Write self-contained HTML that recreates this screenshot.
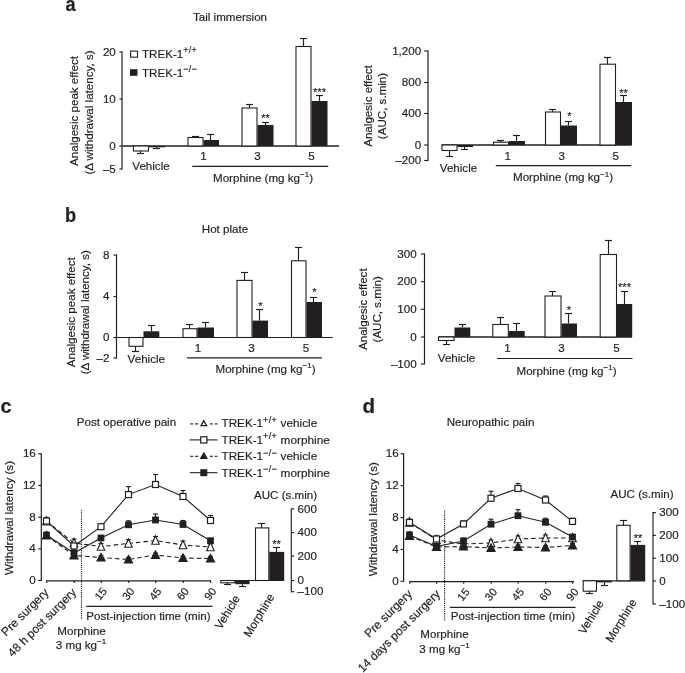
<!DOCTYPE html>
<html><head><meta charset="utf-8"><title>Figure</title>
<style>
html,body{margin:0;padding:0;background:#fff;}
svg{display:block;will-change:transform;font-family:"Liberation Sans",sans-serif;fill:#231f20;}
svg text{stroke:#231f20;stroke-width:0.18px;}
</style></head><body>
<svg width="685" height="673" viewBox="0 0 685 673">
<rect x="0" y="0" width="685" height="673" fill="#ffffff" stroke="none"/>
<g id="fig">
<text transform="translate(65.5 10.5) scale(0.93 1)" font-size="19.6" font-weight="bold" stroke="#231f20" stroke-width="0.35">a</text>
<text x="230" y="21.3" font-size="11.6" text-anchor="middle">Tail immersion</text>
<line x1="122" y1="51.5" x2="122" y2="169.5" stroke="#231f20" stroke-width="1.2"/>
<line x1="119.4" y1="52" x2="122" y2="52" stroke="#231f20" stroke-width="1.15"/>
<text x="115.8" y="55.6" font-size="11.6" text-anchor="end">20</text>
<line x1="119.4" y1="99" x2="122" y2="99" stroke="#231f20" stroke-width="1.15"/>
<text x="115.8" y="102.6" font-size="11.6" text-anchor="end">10</text>
<line x1="119.4" y1="146" x2="122" y2="146" stroke="#231f20" stroke-width="1.15"/>
<text x="115.8" y="149.6" font-size="11.6" text-anchor="end">0</text>
<line x1="119.4" y1="169" x2="122" y2="169" stroke="#231f20" stroke-width="1.15"/>
<text x="115.8" y="172.6" font-size="11.6" text-anchor="end">–5</text>
<line x1="122" y1="146" x2="339" y2="146" stroke="#231f20" stroke-width="1.5"/>
<rect x="130.6" y="51.1" width="6.9" height="6.1" fill="#fff" stroke="#231f20" stroke-width="1.1"/>
<rect x="130" y="69.2" width="7.5" height="6.6" fill="#231f20" stroke="none" stroke-width="1"/>
<text x="142" y="57.5" font-size="11.6">TREK-1<tspan dy="-4.7" font-size="9" letter-spacing="0.3">+/+</tspan></text>
<text x="142" y="76.5" font-size="11.6">TREK-1<tspan dy="-4.7" font-size="9" letter-spacing="0.3">−/−</tspan></text>
<rect x="133.5" y="146" width="15.0" height="5" fill="#fff" stroke="#231f20" stroke-width="1.1"/>
<line x1="140.5" y1="151" x2="140.5" y2="153.5" stroke="#231f20" stroke-width="1.15"/>
<line x1="137.0" y1="153.5" x2="144.0" y2="153.5" stroke="#231f20" stroke-width="1.15"/>
<rect x="149" y="146" width="16" height="1.3000000000000114" fill="#231f20" stroke="none" stroke-width="0"/>
<line x1="156.5" y1="147.3" x2="156.5" y2="148.5" stroke="#231f20" stroke-width="1.15"/>
<line x1="153.0" y1="148.5" x2="160.0" y2="148.5" stroke="#231f20" stroke-width="1.15"/>
<rect x="188.0" y="137.5" width="15.0" height="8.5" fill="#fff" stroke="#231f20" stroke-width="1.1"/>
<line x1="195.5" y1="137.5" x2="195.5" y2="136.5" stroke="#231f20" stroke-width="1.15"/>
<line x1="192.0" y1="136.5" x2="199.0" y2="136.5" stroke="#231f20" stroke-width="1.15"/>
<rect x="203.5" y="140" width="15.5" height="6" fill="#231f20" stroke="none" stroke-width="0"/>
<line x1="210.5" y1="140" x2="210.5" y2="134.5" stroke="#231f20" stroke-width="1.15"/>
<line x1="207.0" y1="134.5" x2="214.0" y2="134.5" stroke="#231f20" stroke-width="1.15"/>
<rect x="242.0" y="108" width="15.0" height="38" fill="#fff" stroke="#231f20" stroke-width="1.1"/>
<line x1="249.5" y1="108" x2="249.5" y2="104.5" stroke="#231f20" stroke-width="1.15"/>
<line x1="246.0" y1="104.5" x2="253.0" y2="104.5" stroke="#231f20" stroke-width="1.15"/>
<rect x="257.5" y="125" width="16.0" height="21" fill="#231f20" stroke="none" stroke-width="0"/>
<line x1="265.5" y1="125" x2="265.5" y2="122.5" stroke="#231f20" stroke-width="1.15"/>
<line x1="262.0" y1="122.5" x2="269.0" y2="122.5" stroke="#231f20" stroke-width="1.15"/>
<rect x="296.0" y="46.5" width="15.0" height="99.5" fill="#fff" stroke="#231f20" stroke-width="1.1"/>
<line x1="303.5" y1="46.5" x2="303.5" y2="38.5" stroke="#231f20" stroke-width="1.15"/>
<line x1="300.0" y1="38.5" x2="307.0" y2="38.5" stroke="#231f20" stroke-width="1.15"/>
<rect x="311.5" y="101" width="16.0" height="45" fill="#231f20" stroke="none" stroke-width="0"/>
<line x1="319.5" y1="101" x2="319.5" y2="95.5" stroke="#231f20" stroke-width="1.15"/>
<line x1="316.0" y1="95.5" x2="323.0" y2="95.5" stroke="#231f20" stroke-width="1.15"/>
<text x="265.5" y="121.7" font-size="11" text-anchor="middle">**</text>
<text x="319.5" y="96.2" font-size="11" text-anchor="middle">***</text>
<text x="151" y="170" font-size="11.6" text-anchor="middle">Vehicle</text>
<text x="203.5" y="160" font-size="11.6" text-anchor="middle">1</text>
<text x="257.5" y="160" font-size="11.6" text-anchor="middle">3</text>
<text x="311.5" y="160" font-size="11.6" text-anchor="middle">5</text>
<line x1="192.3" y1="166.3" x2="328.3" y2="166.3" stroke="#231f20" stroke-width="1.15"/>
<text x="263" y="181.5" font-size="11.6" text-anchor="middle">Morphine (mg kg<tspan dy="-4.5" font-size="8">−1</tspan><tspan dy="4.5">)</tspan></text>
<text x="78" y="111" font-size="11.6" text-anchor="middle" transform="rotate(-90 78 111)">Analgesic peak effect</text>
<text x="92.5" y="112.5" font-size="11.6" text-anchor="middle" transform="rotate(-90 92.5 112.5)">(Δ withdrawal latency, s)</text>
<line x1="428" y1="50.5" x2="428" y2="161" stroke="#231f20" stroke-width="1.2"/>
<line x1="424.2" y1="51" x2="428" y2="51" stroke="#231f20" stroke-width="1.15"/>
<text x="421.2" y="54.6" font-size="11.6" text-anchor="end">1,200</text>
<line x1="424.2" y1="82.5" x2="428" y2="82.5" stroke="#231f20" stroke-width="1.15"/>
<text x="421.2" y="86.1" font-size="11.6" text-anchor="end">800</text>
<line x1="424.2" y1="113.5" x2="428" y2="113.5" stroke="#231f20" stroke-width="1.15"/>
<text x="421.2" y="117.1" font-size="11.6" text-anchor="end">400</text>
<line x1="424.2" y1="145" x2="428" y2="145" stroke="#231f20" stroke-width="1.15"/>
<text x="421.2" y="148.6" font-size="11.6" text-anchor="end">0</text>
<line x1="424.2" y1="160.5" x2="428" y2="160.5" stroke="#231f20" stroke-width="1.15"/>
<text x="421.2" y="164.1" font-size="11.6" text-anchor="end">–200</text>
<line x1="441.5" y1="145" x2="631.5" y2="145" stroke="#231f20" stroke-width="1.3"/>
<rect x="442.0" y="145" width="15.0" height="5.5" fill="#fff" stroke="#231f20" stroke-width="1.1"/>
<line x1="449.5" y1="150.5" x2="449.5" y2="156.5" stroke="#231f20" stroke-width="1.15"/>
<line x1="446.0" y1="156.5" x2="453.0" y2="156.5" stroke="#231f20" stroke-width="1.15"/>
<rect x="457.5" y="145" width="15.5" height="2" fill="#231f20" stroke="none" stroke-width="0"/>
<line x1="464.5" y1="147" x2="464.5" y2="149.5" stroke="#231f20" stroke-width="1.15"/>
<line x1="461.0" y1="149.5" x2="468.0" y2="149.5" stroke="#231f20" stroke-width="1.15"/>
<rect x="493.5" y="142.2" width="15.0" height="2.8000000000000114" fill="#fff" stroke="#231f20" stroke-width="1.1"/>
<line x1="500.5" y1="142.2" x2="500.5" y2="140.5" stroke="#231f20" stroke-width="1.15"/>
<line x1="497.0" y1="140.5" x2="504.0" y2="140.5" stroke="#231f20" stroke-width="1.15"/>
<rect x="509" y="141" width="16" height="4" fill="#231f20" stroke="none" stroke-width="0"/>
<line x1="516.5" y1="141" x2="516.5" y2="135.5" stroke="#231f20" stroke-width="1.15"/>
<line x1="513.0" y1="135.5" x2="520.0" y2="135.5" stroke="#231f20" stroke-width="1.15"/>
<rect x="545.5" y="112" width="15.0" height="33" fill="#fff" stroke="#231f20" stroke-width="1.1"/>
<line x1="552.5" y1="112" x2="552.5" y2="109.5" stroke="#231f20" stroke-width="1.15"/>
<line x1="549.0" y1="109.5" x2="556.0" y2="109.5" stroke="#231f20" stroke-width="1.15"/>
<rect x="561" y="125.5" width="16" height="19.5" fill="#231f20" stroke="none" stroke-width="0"/>
<line x1="568.5" y1="125.5" x2="568.5" y2="121.5" stroke="#231f20" stroke-width="1.15"/>
<line x1="565.0" y1="121.5" x2="572.0" y2="121.5" stroke="#231f20" stroke-width="1.15"/>
<rect x="600.0" y="64.2" width="15.5" height="80.8" fill="#fff" stroke="#231f20" stroke-width="1.1"/>
<line x1="607.5" y1="64.2" x2="607.5" y2="57.5" stroke="#231f20" stroke-width="1.15"/>
<line x1="604.0" y1="57.5" x2="611.0" y2="57.5" stroke="#231f20" stroke-width="1.15"/>
<rect x="616" y="102" width="16" height="43" fill="#231f20" stroke="none" stroke-width="0"/>
<line x1="623.5" y1="102" x2="623.5" y2="95.5" stroke="#231f20" stroke-width="1.15"/>
<line x1="620.0" y1="95.5" x2="627.0" y2="95.5" stroke="#231f20" stroke-width="1.15"/>
<text x="569.3" y="120.2" font-size="11" text-anchor="middle">*</text>
<text x="623.5" y="96.7" font-size="11" text-anchor="middle">**</text>
<text x="458.5" y="171.5" font-size="11.6" text-anchor="middle">Vehicle</text>
<text x="507.8" y="160" font-size="11.6" text-anchor="middle">1</text>
<text x="561.8" y="160" font-size="11.6" text-anchor="middle">3</text>
<text x="615.8" y="160" font-size="11.6" text-anchor="middle">5</text>
<line x1="495.8" y1="165.6" x2="631.2" y2="165.6" stroke="#231f20" stroke-width="1.15"/>
<text x="563" y="181" font-size="11.6" text-anchor="middle">Morphine (mg kg<tspan dy="-4.5" font-size="8">−1</tspan><tspan dy="4.5">)</tspan></text>
<text x="372" y="106" font-size="11.6" text-anchor="middle" transform="rotate(-90 372 106)">Analgesic effect</text>
<text x="386" y="106" font-size="11.6" text-anchor="middle" transform="rotate(-90 386 106)">(AUC, s.min)</text>
<text transform="translate(64.9 221.6) scale(0.95 1)" font-size="19.3" font-weight="bold" stroke="#231f20" stroke-width="0.35">b</text>
<text x="225" y="232.5" font-size="11.6" text-anchor="middle">Hot plate</text>
<line x1="116.5" y1="254.5" x2="116.5" y2="358.5" stroke="#231f20" stroke-width="1.2"/>
<line x1="113.5" y1="255" x2="116.5" y2="255" stroke="#231f20" stroke-width="1.15"/>
<text x="109.5" y="258.6" font-size="11.6" text-anchor="end">8</text>
<line x1="113.5" y1="296.5" x2="116.5" y2="296.5" stroke="#231f20" stroke-width="1.15"/>
<text x="109.5" y="300.1" font-size="11.6" text-anchor="end">4</text>
<line x1="113.5" y1="337.5" x2="116.5" y2="337.5" stroke="#231f20" stroke-width="1.15"/>
<text x="109.5" y="341.1" font-size="11.6" text-anchor="end">0</text>
<line x1="113.5" y1="358" x2="116.5" y2="358" stroke="#231f20" stroke-width="1.15"/>
<text x="109.5" y="361.6" font-size="11.6" text-anchor="end">–2</text>
<line x1="116.5" y1="337.5" x2="332.6" y2="337.5" stroke="#231f20" stroke-width="1.2"/>
<rect x="129.0" y="337.5" width="14.0" height="8.800000000000011" fill="#fff" stroke="#231f20" stroke-width="1.1"/>
<line x1="135.5" y1="346.3" x2="135.5" y2="351.5" stroke="#231f20" stroke-width="1.15"/>
<line x1="132.0" y1="351.5" x2="139.0" y2="351.5" stroke="#231f20" stroke-width="1.15"/>
<rect x="143.5" y="331.3" width="15.800000000000011" height="6.199999999999989" fill="#231f20" stroke="none" stroke-width="0"/>
<line x1="151.5" y1="331.3" x2="151.5" y2="325.5" stroke="#231f20" stroke-width="1.15"/>
<line x1="148.0" y1="325.5" x2="155.0" y2="325.5" stroke="#231f20" stroke-width="1.15"/>
<rect x="183.0" y="328.7" width="14.0" height="8.800000000000011" fill="#fff" stroke="#231f20" stroke-width="1.1"/>
<line x1="189.5" y1="328.7" x2="189.5" y2="324.5" stroke="#231f20" stroke-width="1.15"/>
<line x1="186.0" y1="324.5" x2="193.0" y2="324.5" stroke="#231f20" stroke-width="1.15"/>
<rect x="197.5" y="327.5" width="16.5" height="10.0" fill="#231f20" stroke="none" stroke-width="0"/>
<line x1="205.5" y1="327.5" x2="205.5" y2="322.5" stroke="#231f20" stroke-width="1.15"/>
<line x1="202.0" y1="322.5" x2="209.0" y2="322.5" stroke="#231f20" stroke-width="1.15"/>
<rect x="237.0" y="280.4" width="15.0" height="57.10000000000002" fill="#fff" stroke="#231f20" stroke-width="1.1"/>
<line x1="244.5" y1="280.4" x2="244.5" y2="272.5" stroke="#231f20" stroke-width="1.15"/>
<line x1="241.0" y1="272.5" x2="248.0" y2="272.5" stroke="#231f20" stroke-width="1.15"/>
<rect x="252.5" y="320.6" width="15.5" height="16.899999999999977" fill="#231f20" stroke="none" stroke-width="0"/>
<line x1="259.5" y1="320.6" x2="259.5" y2="309.5" stroke="#231f20" stroke-width="1.15"/>
<line x1="256.0" y1="309.5" x2="263.0" y2="309.5" stroke="#231f20" stroke-width="1.15"/>
<rect x="291.5" y="260.8" width="14.5" height="76.69999999999999" fill="#fff" stroke="#231f20" stroke-width="1.1"/>
<line x1="298.5" y1="260.8" x2="298.5" y2="247.5" stroke="#231f20" stroke-width="1.15"/>
<line x1="295.0" y1="247.5" x2="302.0" y2="247.5" stroke="#231f20" stroke-width="1.15"/>
<rect x="306.5" y="302" width="15.5" height="35.5" fill="#231f20" stroke="none" stroke-width="0"/>
<line x1="313.5" y1="302" x2="313.5" y2="297.5" stroke="#231f20" stroke-width="1.15"/>
<line x1="310.0" y1="297.5" x2="317.0" y2="297.5" stroke="#231f20" stroke-width="1.15"/>
<text x="260.3" y="309.5" font-size="11" text-anchor="middle">*</text>
<text x="314.4" y="295.8" font-size="11" text-anchor="middle">*</text>
<text x="146.3" y="362.5" font-size="11.6" text-anchor="middle">Vehicle</text>
<text x="198" y="352.3" font-size="11.6" text-anchor="middle">1</text>
<text x="251.5" y="352.3" font-size="11.6" text-anchor="middle">3</text>
<text x="306" y="352.3" font-size="11.6" text-anchor="middle">5</text>
<line x1="186.9" y1="357.9" x2="322" y2="357.9" stroke="#231f20" stroke-width="1.15"/>
<text x="265.5" y="372.5" font-size="11.6" text-anchor="middle">Morphine (mg kg<tspan dy="-4.5" font-size="8">−1</tspan><tspan dy="4.5">)</tspan></text>
<text x="75.5" y="312.2" font-size="11.6" text-anchor="middle" transform="rotate(-90 75.5 312.2)">Analgesic peak effect</text>
<text x="89.5" y="312.2" font-size="11.6" text-anchor="middle" transform="rotate(-90 89.5 312.2)">(Δ withdrawal latency, s)</text>
<line x1="424.5" y1="253.5" x2="424.5" y2="364.3" stroke="#231f20" stroke-width="1.2"/>
<line x1="420.9" y1="254" x2="424.5" y2="254" stroke="#231f20" stroke-width="1.15"/>
<text x="416.7" y="257.6" font-size="11.6" text-anchor="end">300</text>
<line x1="420.9" y1="281.7" x2="424.5" y2="281.7" stroke="#231f20" stroke-width="1.15"/>
<text x="416.7" y="285.3" font-size="11.6" text-anchor="end">200</text>
<line x1="420.9" y1="309.3" x2="424.5" y2="309.3" stroke="#231f20" stroke-width="1.15"/>
<text x="416.7" y="312.90000000000003" font-size="11.6" text-anchor="end">100</text>
<line x1="420.9" y1="337" x2="424.5" y2="337" stroke="#231f20" stroke-width="1.15"/>
<text x="416.7" y="340.6" font-size="11.6" text-anchor="end">0</text>
<line x1="420.9" y1="364" x2="424.5" y2="364" stroke="#231f20" stroke-width="1.15"/>
<text x="416.7" y="367.6" font-size="11.6" text-anchor="end">–100</text>
<line x1="438.5" y1="337" x2="632" y2="337" stroke="#231f20" stroke-width="1.3"/>
<rect x="438.5" y="337" width="15.5" height="3.5" fill="#fff" stroke="#231f20" stroke-width="1.1"/>
<line x1="446.5" y1="340.5" x2="446.5" y2="344.5" stroke="#231f20" stroke-width="1.15"/>
<line x1="443.0" y1="344.5" x2="450.0" y2="344.5" stroke="#231f20" stroke-width="1.15"/>
<rect x="454.5" y="327.5" width="15.800000000000011" height="9.5" fill="#231f20" stroke="none" stroke-width="0"/>
<line x1="462.5" y1="327.5" x2="462.5" y2="324.5" stroke="#231f20" stroke-width="1.15"/>
<line x1="459.0" y1="324.5" x2="466.0" y2="324.5" stroke="#231f20" stroke-width="1.15"/>
<rect x="492.8" y="324.5" width="15.5" height="12.5" fill="#fff" stroke="#231f20" stroke-width="1.1"/>
<line x1="500.5" y1="324.5" x2="500.5" y2="317.5" stroke="#231f20" stroke-width="1.15"/>
<line x1="497.0" y1="317.5" x2="504.0" y2="317.5" stroke="#231f20" stroke-width="1.15"/>
<rect x="508.8" y="331" width="15.900000000000034" height="6" fill="#231f20" stroke="none" stroke-width="0"/>
<line x1="516.5" y1="331" x2="516.5" y2="323.5" stroke="#231f20" stroke-width="1.15"/>
<line x1="513.0" y1="323.5" x2="520.0" y2="323.5" stroke="#231f20" stroke-width="1.15"/>
<rect x="545.0" y="296" width="16.0" height="41" fill="#fff" stroke="#231f20" stroke-width="1.1"/>
<line x1="552.5" y1="296" x2="552.5" y2="291.5" stroke="#231f20" stroke-width="1.15"/>
<line x1="549.0" y1="291.5" x2="556.0" y2="291.5" stroke="#231f20" stroke-width="1.15"/>
<rect x="561.5" y="323.5" width="15.5" height="13.5" fill="#231f20" stroke="none" stroke-width="0"/>
<line x1="568.5" y1="323.5" x2="568.5" y2="313.5" stroke="#231f20" stroke-width="1.15"/>
<line x1="565.0" y1="313.5" x2="572.0" y2="313.5" stroke="#231f20" stroke-width="1.15"/>
<rect x="600.2" y="254.5" width="16.299999999999955" height="82.5" fill="#fff" stroke="#231f20" stroke-width="1.1"/>
<line x1="608.5" y1="254.5" x2="608.5" y2="240.5" stroke="#231f20" stroke-width="1.15"/>
<line x1="605.0" y1="240.5" x2="612.0" y2="240.5" stroke="#231f20" stroke-width="1.15"/>
<rect x="617" y="304" width="15.200000000000045" height="33" fill="#231f20" stroke="none" stroke-width="0"/>
<line x1="624.5" y1="304" x2="624.5" y2="291.5" stroke="#231f20" stroke-width="1.15"/>
<line x1="621.0" y1="291.5" x2="628.0" y2="291.5" stroke="#231f20" stroke-width="1.15"/>
<text x="569" y="314.2" font-size="11" text-anchor="middle">*</text>
<text x="624.5" y="291.2" font-size="11" text-anchor="middle">***</text>
<text x="456.5" y="362" font-size="11.6" text-anchor="middle">Vehicle</text>
<text x="507.5" y="351.5" font-size="11.6" text-anchor="middle">1</text>
<text x="561.5" y="351.5" font-size="11.6" text-anchor="middle">3</text>
<text x="616.5" y="351.5" font-size="11.6" text-anchor="middle">5</text>
<line x1="497" y1="358.5" x2="632.5" y2="358.5" stroke="#231f20" stroke-width="1.15"/>
<text x="566.5" y="374.5" font-size="11.6" text-anchor="middle">Morphine (mg kg<tspan dy="-4.5" font-size="8">−1</tspan><tspan dy="4.5">)</tspan></text>
<text x="367" y="309.2" font-size="11.6" text-anchor="middle" transform="rotate(-90 367 309.2)">Analgesic effect</text>
<text x="381" y="309.3" font-size="11.6" text-anchor="middle" transform="rotate(-90 381 309.3)">(AUC, s.min)</text>
<text transform="translate(0.6 413.1) scale(1.0 1)" font-size="20" font-weight="bold" stroke="#231f20" stroke-width="0.35">c</text>
<text x="126.5" y="426.3" font-size="11.6" text-anchor="middle">Post operative pain</text>
<line x1="41.3" y1="453.3" x2="41.3" y2="581.0" stroke="#231f20" stroke-width="1.2"/>
<line x1="38.3" y1="453.8" x2="41.3" y2="453.8" stroke="#231f20" stroke-width="1.15"/>
<text x="35.8" y="457.40000000000003" font-size="11.6" text-anchor="end">16</text>
<line x1="38.3" y1="485.5" x2="41.3" y2="485.5" stroke="#231f20" stroke-width="1.15"/>
<text x="35.8" y="489.1" font-size="11.6" text-anchor="end">12</text>
<line x1="38.3" y1="517.2" x2="41.3" y2="517.2" stroke="#231f20" stroke-width="1.15"/>
<text x="35.8" y="520.8000000000001" font-size="11.6" text-anchor="end">8</text>
<line x1="38.3" y1="548.8" x2="41.3" y2="548.8" stroke="#231f20" stroke-width="1.15"/>
<text x="35.8" y="552.4" font-size="11.6" text-anchor="end">4</text>
<line x1="38.3" y1="580.5" x2="41.3" y2="580.5" stroke="#231f20" stroke-width="1.15"/>
<text x="35.8" y="584.1" font-size="11.6" text-anchor="end">0</text>
<line x1="46.1" y1="580.8" x2="211" y2="580.8" stroke="#231f20" stroke-width="1.2"/>
<line x1="46.7" y1="580.8" x2="46.7" y2="583.0" stroke="#231f20" stroke-width="1.15"/>
<line x1="74.2" y1="580.8" x2="74.2" y2="583.0" stroke="#231f20" stroke-width="1.15"/>
<line x1="101.2" y1="580.8" x2="101.2" y2="583.0" stroke="#231f20" stroke-width="1.15"/>
<line x1="128.7" y1="580.8" x2="128.7" y2="583.0" stroke="#231f20" stroke-width="1.15"/>
<line x1="155.7" y1="580.8" x2="155.7" y2="583.0" stroke="#231f20" stroke-width="1.15"/>
<line x1="183.2" y1="580.8" x2="183.2" y2="583.0" stroke="#231f20" stroke-width="1.15"/>
<line x1="210.7" y1="580.8" x2="210.7" y2="583.0" stroke="#231f20" stroke-width="1.15"/>
<line x1="81.5" y1="510.2" x2="81.5" y2="619.5" stroke="#231f20" stroke-width="1.2" stroke-dasharray="1.1,1"/>
<polyline points="46.5,521.2 74,543 101,546.5 128.5,543.5 155.5,540.5 183,545 210.5,547" fill="none" stroke="#231f20" stroke-width="1.1" stroke-dasharray="4.5,3"/>
<polyline points="46.5,535.5 74,555.5 101,557.5 128.5,559.5 155.5,555 183,558 210.5,558.5" fill="none" stroke="#231f20" stroke-width="1.1" stroke-dasharray="4.5,3"/>
<polyline points="46.5,521 74,546 101,526.7 128.5,494.6 155.5,484.5 183,496.5 210.5,520.5" fill="none" stroke="#231f20" stroke-width="1.1"/>
<polyline points="46.5,535.2 74,553 101,538 128.5,524.8 155.5,520 183,524.5 210.5,540.7" fill="none" stroke="#231f20" stroke-width="1.1"/>
<line x1="46.5" y1="521.2" x2="46.5" y2="518.2" stroke="#231f20" stroke-width="1.15"/>
<line x1="44.1" y1="518.2" x2="48.9" y2="518.2" stroke="#231f20" stroke-width="1.15"/>
<line x1="74" y1="543" x2="74" y2="539" stroke="#231f20" stroke-width="1.15"/>
<line x1="71.6" y1="539" x2="76.4" y2="539" stroke="#231f20" stroke-width="1.15"/>
<line x1="101" y1="546.5" x2="101" y2="543.5" stroke="#231f20" stroke-width="1.15"/>
<line x1="98.6" y1="543.5" x2="103.4" y2="543.5" stroke="#231f20" stroke-width="1.15"/>
<line x1="128.5" y1="543.5" x2="128.5" y2="539.5" stroke="#231f20" stroke-width="1.15"/>
<line x1="126.1" y1="539.5" x2="130.9" y2="539.5" stroke="#231f20" stroke-width="1.15"/>
<line x1="155.5" y1="540.5" x2="155.5" y2="536.5" stroke="#231f20" stroke-width="1.15"/>
<line x1="153.1" y1="536.5" x2="157.9" y2="536.5" stroke="#231f20" stroke-width="1.15"/>
<line x1="183" y1="545" x2="183" y2="541" stroke="#231f20" stroke-width="1.15"/>
<line x1="180.6" y1="541" x2="185.4" y2="541" stroke="#231f20" stroke-width="1.15"/>
<line x1="210.5" y1="547" x2="210.5" y2="544" stroke="#231f20" stroke-width="1.15"/>
<line x1="208.1" y1="544" x2="212.9" y2="544" stroke="#231f20" stroke-width="1.15"/>
<line x1="46.5" y1="535.5" x2="46.5" y2="533.5" stroke="#231f20" stroke-width="1.15"/>
<line x1="44.1" y1="533.5" x2="48.9" y2="533.5" stroke="#231f20" stroke-width="1.15"/>
<line x1="74" y1="555.5" x2="74" y2="553.5" stroke="#231f20" stroke-width="1.15"/>
<line x1="71.6" y1="553.5" x2="76.4" y2="553.5" stroke="#231f20" stroke-width="1.15"/>
<line x1="101" y1="557.5" x2="101" y2="555.5" stroke="#231f20" stroke-width="1.15"/>
<line x1="98.6" y1="555.5" x2="103.4" y2="555.5" stroke="#231f20" stroke-width="1.15"/>
<line x1="128.5" y1="559.5" x2="128.5" y2="557.5" stroke="#231f20" stroke-width="1.15"/>
<line x1="126.1" y1="557.5" x2="130.9" y2="557.5" stroke="#231f20" stroke-width="1.15"/>
<line x1="155.5" y1="555" x2="155.5" y2="553" stroke="#231f20" stroke-width="1.15"/>
<line x1="153.1" y1="553" x2="157.9" y2="553" stroke="#231f20" stroke-width="1.15"/>
<line x1="183" y1="558" x2="183" y2="556" stroke="#231f20" stroke-width="1.15"/>
<line x1="180.6" y1="556" x2="185.4" y2="556" stroke="#231f20" stroke-width="1.15"/>
<line x1="210.5" y1="558.5" x2="210.5" y2="556.5" stroke="#231f20" stroke-width="1.15"/>
<line x1="208.1" y1="556.5" x2="212.9" y2="556.5" stroke="#231f20" stroke-width="1.15"/>
<line x1="46.5" y1="521" x2="46.5" y2="518" stroke="#231f20" stroke-width="1.15"/>
<line x1="44.1" y1="518" x2="48.9" y2="518" stroke="#231f20" stroke-width="1.15"/>
<line x1="74" y1="546" x2="74" y2="543" stroke="#231f20" stroke-width="1.15"/>
<line x1="71.6" y1="543" x2="76.4" y2="543" stroke="#231f20" stroke-width="1.15"/>
<line x1="101" y1="526.7" x2="101" y2="524.7" stroke="#231f20" stroke-width="1.15"/>
<line x1="98.6" y1="524.7" x2="103.4" y2="524.7" stroke="#231f20" stroke-width="1.15"/>
<line x1="128.5" y1="494.6" x2="128.5" y2="486.6" stroke="#231f20" stroke-width="1.15"/>
<line x1="126.1" y1="486.6" x2="130.9" y2="486.6" stroke="#231f20" stroke-width="1.15"/>
<line x1="155.5" y1="484.5" x2="155.5" y2="474.5" stroke="#231f20" stroke-width="1.15"/>
<line x1="153.1" y1="474.5" x2="157.9" y2="474.5" stroke="#231f20" stroke-width="1.15"/>
<line x1="183" y1="496.5" x2="183" y2="490.5" stroke="#231f20" stroke-width="1.15"/>
<line x1="180.6" y1="490.5" x2="185.4" y2="490.5" stroke="#231f20" stroke-width="1.15"/>
<line x1="210.5" y1="520.5" x2="210.5" y2="515.5" stroke="#231f20" stroke-width="1.15"/>
<line x1="208.1" y1="515.5" x2="212.9" y2="515.5" stroke="#231f20" stroke-width="1.15"/>
<line x1="46.5" y1="535.2" x2="46.5" y2="532.2" stroke="#231f20" stroke-width="1.15"/>
<line x1="44.1" y1="532.2" x2="48.9" y2="532.2" stroke="#231f20" stroke-width="1.15"/>
<line x1="74" y1="553" x2="74" y2="550" stroke="#231f20" stroke-width="1.15"/>
<line x1="71.6" y1="550" x2="76.4" y2="550" stroke="#231f20" stroke-width="1.15"/>
<line x1="101" y1="538" x2="101" y2="536" stroke="#231f20" stroke-width="1.15"/>
<line x1="98.6" y1="536" x2="103.4" y2="536" stroke="#231f20" stroke-width="1.15"/>
<line x1="128.5" y1="524.8" x2="128.5" y2="520.8" stroke="#231f20" stroke-width="1.15"/>
<line x1="126.1" y1="520.8" x2="130.9" y2="520.8" stroke="#231f20" stroke-width="1.15"/>
<line x1="155.5" y1="520" x2="155.5" y2="514" stroke="#231f20" stroke-width="1.15"/>
<line x1="153.1" y1="514" x2="157.9" y2="514" stroke="#231f20" stroke-width="1.15"/>
<line x1="183" y1="524.5" x2="183" y2="520.5" stroke="#231f20" stroke-width="1.15"/>
<line x1="180.6" y1="520.5" x2="185.4" y2="520.5" stroke="#231f20" stroke-width="1.15"/>
<line x1="210.5" y1="540.7" x2="210.5" y2="538.7" stroke="#231f20" stroke-width="1.15"/>
<line x1="208.1" y1="538.7" x2="212.9" y2="538.7" stroke="#231f20" stroke-width="1.15"/>
<polygon points="46.5,516.6 50.3,525.0 42.7,525.0" fill="#fff" stroke="#231f20" stroke-width="1.1"/>
<polygon points="74,538.4 77.8,546.8 70.2,546.8" fill="#fff" stroke="#231f20" stroke-width="1.1"/>
<polygon points="101,541.9 104.8,550.3 97.2,550.3" fill="#fff" stroke="#231f20" stroke-width="1.1"/>
<polygon points="128.5,538.9 132.3,547.3 124.7,547.3" fill="#fff" stroke="#231f20" stroke-width="1.1"/>
<polygon points="155.5,535.9 159.3,544.3 151.7,544.3" fill="#fff" stroke="#231f20" stroke-width="1.1"/>
<polygon points="183,540.4 186.8,548.8 179.2,548.8" fill="#fff" stroke="#231f20" stroke-width="1.1"/>
<polygon points="210.5,542.4 214.3,550.8 206.7,550.8" fill="#fff" stroke="#231f20" stroke-width="1.1"/>
<polygon points="46.5,531.3 50.6,538.9 42.4,538.9" fill="#231f20" stroke="#231f20" stroke-width="1.1"/>
<polygon points="74,551.3 78.1,558.9 69.9,558.9" fill="#231f20" stroke="#231f20" stroke-width="1.1"/>
<polygon points="101,553.3 105.1,560.9 96.9,560.9" fill="#231f20" stroke="#231f20" stroke-width="1.1"/>
<polygon points="128.5,555.3 132.6,562.9 124.4,562.9" fill="#231f20" stroke="#231f20" stroke-width="1.1"/>
<polygon points="155.5,550.8 159.6,558.4 151.4,558.4" fill="#231f20" stroke="#231f20" stroke-width="1.1"/>
<polygon points="183,553.8 187.1,561.4 178.9,561.4" fill="#231f20" stroke="#231f20" stroke-width="1.1"/>
<polygon points="210.5,554.3 214.6,561.9 206.4,561.9" fill="#231f20" stroke="#231f20" stroke-width="1.1"/>
<rect x="43.5" y="518.0" width="6" height="6" fill="#fff" stroke="#231f20" stroke-width="1.2"/>
<rect x="71.0" y="543.0" width="6" height="6" fill="#fff" stroke="#231f20" stroke-width="1.2"/>
<rect x="98.0" y="523.7" width="6" height="6" fill="#fff" stroke="#231f20" stroke-width="1.2"/>
<rect x="125.5" y="491.6" width="6" height="6" fill="#fff" stroke="#231f20" stroke-width="1.2"/>
<rect x="152.5" y="481.5" width="6" height="6" fill="#fff" stroke="#231f20" stroke-width="1.2"/>
<rect x="180.0" y="493.5" width="6" height="6" fill="#fff" stroke="#231f20" stroke-width="1.2"/>
<rect x="207.5" y="517.5" width="6" height="6" fill="#fff" stroke="#231f20" stroke-width="1.2"/>
<rect x="43.1" y="531.8000000000001" width="6.8" height="6.8" fill="#231f20" stroke="none" stroke-width="1"/>
<rect x="70.6" y="549.6" width="6.8" height="6.8" fill="#231f20" stroke="none" stroke-width="1"/>
<rect x="97.6" y="534.6" width="6.8" height="6.8" fill="#231f20" stroke="none" stroke-width="1"/>
<rect x="125.1" y="521.4" width="6.8" height="6.8" fill="#231f20" stroke="none" stroke-width="1"/>
<rect x="152.1" y="516.6" width="6.8" height="6.8" fill="#231f20" stroke="none" stroke-width="1"/>
<rect x="179.6" y="521.1" width="6.8" height="6.8" fill="#231f20" stroke="none" stroke-width="1"/>
<rect x="207.1" y="537.3000000000001" width="6.8" height="6.8" fill="#231f20" stroke="none" stroke-width="1"/>
<line x1="190.2" y1="423.9" x2="193.2" y2="423.9" stroke="#231f20" stroke-width="1.1"/>
<line x1="194.9" y1="423.9" x2="198.3" y2="423.9" stroke="#231f20" stroke-width="1.1"/>
<line x1="209.9" y1="423.9" x2="212.9" y2="423.9" stroke="#231f20" stroke-width="1.1"/>
<line x1="214.7" y1="423.9" x2="217.5" y2="423.9" stroke="#231f20" stroke-width="1.1"/>
<line x1="189.7" y1="439.9" x2="217.5" y2="439.9" stroke="#231f20" stroke-width="1.1"/>
<line x1="190.2" y1="456.3" x2="193.2" y2="456.3" stroke="#231f20" stroke-width="1.1"/>
<line x1="194.9" y1="456.3" x2="198.3" y2="456.3" stroke="#231f20" stroke-width="1.1"/>
<line x1="209.9" y1="456.3" x2="212.9" y2="456.3" stroke="#231f20" stroke-width="1.1"/>
<line x1="214.7" y1="456.3" x2="217.5" y2="456.3" stroke="#231f20" stroke-width="1.1"/>
<line x1="189.7" y1="472.7" x2="217.5" y2="472.7" stroke="#231f20" stroke-width="1.1"/>
<polygon points="203.8,420.69999999999993 206.60000000000002,425.7 201.0,425.7" fill="#fff" stroke="#231f20" stroke-width="1.3"/>
<rect x="200.70000000000002" y="436.79999999999995" width="6.2" height="6.2" fill="#fff" stroke="#231f20" stroke-width="1.2"/>
<polygon points="203.8,452.79999999999995 207.0,458.40000000000003 200.60000000000002,458.40000000000003" fill="#231f20" stroke="#231f20" stroke-width="1.1"/>
<rect x="200.3" y="469.2" width="7.0" height="7.0" fill="#231f20" stroke="none" stroke-width="1"/>
<text x="221.5" y="427.3" font-size="11.7">TREK-1<tspan dy="-4.7" font-size="9" letter-spacing="0.3">+/+</tspan><tspan dy="4.7" dx="0.3" font-size="11.8" letter-spacing="0"> vehicle</tspan></text>
<text x="221.5" y="443.5" font-size="11.7">TREK-1<tspan dy="-4.7" font-size="9" letter-spacing="0.3">+/+</tspan><tspan dy="4.7" dx="0.3" font-size="11.8" letter-spacing="0"> morphine</tspan></text>
<text x="221.5" y="460.3" font-size="11.7">TREK-1<tspan dy="-4.7" font-size="9" letter-spacing="0.3">−/−</tspan><tspan dy="4.7" dx="0.3" font-size="11.8" letter-spacing="0"> vehicle</tspan></text>
<text x="221.5" y="476.8" font-size="11.7">TREK-1<tspan dy="-4.7" font-size="9" letter-spacing="0.3">−/−</tspan><tspan dy="4.7" dx="0.3" font-size="11.8" letter-spacing="0"> morphine</tspan></text>
<text x="285.5" y="498.5" font-size="11.6" text-anchor="middle">AUC (s.min)</text>
<line x1="291.3" y1="508.4" x2="291.3" y2="592.2" stroke="#231f20" stroke-width="1.15"/>
<line x1="291.3" y1="508.9" x2="294.2" y2="508.9" stroke="#231f20" stroke-width="1.15"/>
<text x="297.6" y="512.5" font-size="11.6" text-anchor="start">600</text>
<line x1="291.3" y1="532.6" x2="294.2" y2="532.6" stroke="#231f20" stroke-width="1.15"/>
<text x="297.6" y="536.2" font-size="11.6" text-anchor="start">400</text>
<line x1="291.3" y1="556.1" x2="294.2" y2="556.1" stroke="#231f20" stroke-width="1.15"/>
<text x="297.6" y="559.7" font-size="11.6" text-anchor="start">200</text>
<line x1="291.3" y1="580.5" x2="294.2" y2="580.5" stroke="#231f20" stroke-width="1.15"/>
<text x="297.6" y="584.1" font-size="11.6" text-anchor="start">0</text>
<line x1="291.3" y1="591.7" x2="294.2" y2="591.7" stroke="#231f20" stroke-width="1.15"/>
<text x="297.6" y="595.3000000000001" font-size="11.6" text-anchor="start">–100</text>
<line x1="220.4" y1="580.5" x2="284.2" y2="580.5" stroke="#231f20" stroke-width="1.15"/>
<rect x="220.9" y="580.5" width="13.799999999999983" height="2.2999999999999545" fill="#fff" stroke="#231f20" stroke-width="1.1"/>
<line x1="227.5" y1="582.8" x2="227.5" y2="584.5" stroke="#231f20" stroke-width="1.15"/>
<line x1="224.0" y1="584.5" x2="231.0" y2="584.5" stroke="#231f20" stroke-width="1.15"/>
<rect x="235.2" y="580.5" width="14.400000000000006" height="3.7000000000000455" fill="#231f20" stroke="none" stroke-width="0"/>
<line x1="242.5" y1="584.2" x2="242.5" y2="586.5" stroke="#231f20" stroke-width="1.15"/>
<line x1="239.0" y1="586.5" x2="246.0" y2="586.5" stroke="#231f20" stroke-width="1.15"/>
<rect x="255.5" y="527.9" width="13.300000000000011" height="52.60000000000002" fill="#fff" stroke="#231f20" stroke-width="1.1"/>
<line x1="261.5" y1="527.9" x2="261.5" y2="523.5" stroke="#231f20" stroke-width="1.15"/>
<line x1="258.0" y1="523.5" x2="265.0" y2="523.5" stroke="#231f20" stroke-width="1.15"/>
<rect x="269.3" y="551.9" width="14.899999999999977" height="28.600000000000023" fill="#231f20" stroke="none" stroke-width="0"/>
<line x1="276.5" y1="551.9" x2="276.5" y2="547.5" stroke="#231f20" stroke-width="1.15"/>
<line x1="273.0" y1="547.5" x2="280.0" y2="547.5" stroke="#231f20" stroke-width="1.15"/>
<text x="276.6" y="548.2" font-size="11" text-anchor="middle">**</text>
<text x="49.5" y="593.2" font-size="11.9" text-anchor="end" transform="rotate(-45 49.5 593.2)">Pre surgery</text>
<text x="77" y="593" font-size="11.8" text-anchor="end" transform="rotate(-45 77 593)">48 h post surgery</text>
<text x="103.7" y="596.2" font-size="11" text-anchor="middle" transform="rotate(-52 103.7 596.2)">15</text>
<text x="131.2" y="596.2" font-size="11" text-anchor="middle" transform="rotate(-52 131.2 596.2)">30</text>
<text x="158.2" y="596.2" font-size="11" text-anchor="middle" transform="rotate(-52 158.2 596.2)">45</text>
<text x="185.7" y="596.2" font-size="11" text-anchor="middle" transform="rotate(-52 185.7 596.2)">60</text>
<text x="213.2" y="596.2" font-size="11" text-anchor="middle" transform="rotate(-52 213.2 596.2)">90</text>
<line x1="86.2" y1="606.4" x2="212.5" y2="606.4" stroke="#231f20" stroke-width="1.15"/>
<text x="148.5" y="619.6" font-size="11.6" text-anchor="middle">Post-injection time (min)</text>
<text x="81.5" y="635.2" font-size="11.6" text-anchor="middle">Morphine</text>
<text x="81" y="648.8" font-size="11.6" text-anchor="middle">3 mg kg<tspan dy="-4.5" font-size="8">−1</tspan></text>
<text x="240.5" y="598.2" font-size="11.6" text-anchor="end" transform="rotate(-58.5 240.5 598.2)">Vehicle</text>
<text x="275" y="596.7" font-size="11.6" text-anchor="end" transform="rotate(-58.5 275 596.7)">Morphine</text>
<text x="12.8" y="518" font-size="11.6" text-anchor="middle" transform="rotate(-90 12.8 518)">Withdrawal latency (s)</text>
<text transform="translate(362.6 412.9) scale(1.06 1)" font-size="19.4" font-weight="bold" stroke="#231f20" stroke-width="0.35">d</text>
<text x="490.5" y="426.3" font-size="11.6" text-anchor="middle">Neuropathic pain</text>
<line x1="403.6" y1="453.3" x2="403.6" y2="581.8" stroke="#231f20" stroke-width="1.2"/>
<line x1="400.6" y1="453.8" x2="403.6" y2="453.8" stroke="#231f20" stroke-width="1.15"/>
<text x="398.6" y="457.40000000000003" font-size="11.6" text-anchor="end">16</text>
<line x1="400.6" y1="485.7" x2="403.6" y2="485.7" stroke="#231f20" stroke-width="1.15"/>
<text x="398.6" y="489.3" font-size="11.6" text-anchor="end">12</text>
<line x1="400.6" y1="517.6" x2="403.6" y2="517.6" stroke="#231f20" stroke-width="1.15"/>
<text x="398.6" y="521.2" font-size="11.6" text-anchor="end">8</text>
<line x1="400.6" y1="549.4" x2="403.6" y2="549.4" stroke="#231f20" stroke-width="1.15"/>
<text x="398.6" y="553.0" font-size="11.6" text-anchor="end">4</text>
<line x1="400.6" y1="581.3" x2="403.6" y2="581.3" stroke="#231f20" stroke-width="1.15"/>
<text x="398.6" y="584.9" font-size="11.6" text-anchor="end">0</text>
<line x1="409.1" y1="581.5999999999999" x2="574" y2="581.5999999999999" stroke="#231f20" stroke-width="1.2"/>
<line x1="409.7" y1="581.5999999999999" x2="409.7" y2="583.8" stroke="#231f20" stroke-width="1.15"/>
<line x1="436.7" y1="581.5999999999999" x2="436.7" y2="583.8" stroke="#231f20" stroke-width="1.15"/>
<line x1="463.7" y1="581.5999999999999" x2="463.7" y2="583.8" stroke="#231f20" stroke-width="1.15"/>
<line x1="491.2" y1="581.5999999999999" x2="491.2" y2="583.8" stroke="#231f20" stroke-width="1.15"/>
<line x1="518.2" y1="581.5999999999999" x2="518.2" y2="583.8" stroke="#231f20" stroke-width="1.15"/>
<line x1="545.7" y1="581.5999999999999" x2="545.7" y2="583.8" stroke="#231f20" stroke-width="1.15"/>
<line x1="572.7" y1="581.5999999999999" x2="572.7" y2="583.8" stroke="#231f20" stroke-width="1.15"/>
<line x1="444.6" y1="510.4" x2="444.6" y2="620.5" stroke="#231f20" stroke-width="1.2" stroke-dasharray="1.1,1"/>
<polyline points="409.5,522.3 436.5,540 463.5,544 491,543 518,539 545.5,538 572.5,538" fill="none" stroke="#231f20" stroke-width="1.1" stroke-dasharray="4.5,3"/>
<polyline points="409.5,536 436.5,547 463.5,546.5 491,548 518,547 545.5,547.5 572.5,545.5" fill="none" stroke="#231f20" stroke-width="1.1" stroke-dasharray="4.5,3"/>
<polyline points="409.5,522.5 436.5,539 463.5,524 491,498.3 518,488.5 545.5,500 572.5,521.4" fill="none" stroke="#231f20" stroke-width="1.1"/>
<polyline points="409.5,535 436.5,546.5 463.5,541 491,524.2 518,515.7 545.5,522.3 572.5,537" fill="none" stroke="#231f20" stroke-width="1.1"/>
<line x1="409.5" y1="522.3" x2="409.5" y2="519.3" stroke="#231f20" stroke-width="1.15"/>
<line x1="407.1" y1="519.3" x2="411.9" y2="519.3" stroke="#231f20" stroke-width="1.15"/>
<line x1="436.5" y1="540" x2="436.5" y2="537" stroke="#231f20" stroke-width="1.15"/>
<line x1="434.1" y1="537" x2="438.9" y2="537" stroke="#231f20" stroke-width="1.15"/>
<line x1="463.5" y1="544" x2="463.5" y2="541" stroke="#231f20" stroke-width="1.15"/>
<line x1="461.1" y1="541" x2="465.9" y2="541" stroke="#231f20" stroke-width="1.15"/>
<line x1="491" y1="543" x2="491" y2="540" stroke="#231f20" stroke-width="1.15"/>
<line x1="488.6" y1="540" x2="493.4" y2="540" stroke="#231f20" stroke-width="1.15"/>
<line x1="518" y1="539" x2="518" y2="536" stroke="#231f20" stroke-width="1.15"/>
<line x1="515.6" y1="536" x2="520.4" y2="536" stroke="#231f20" stroke-width="1.15"/>
<line x1="545.5" y1="538" x2="545.5" y2="535" stroke="#231f20" stroke-width="1.15"/>
<line x1="543.1" y1="535" x2="547.9" y2="535" stroke="#231f20" stroke-width="1.15"/>
<line x1="572.5" y1="538" x2="572.5" y2="536" stroke="#231f20" stroke-width="1.15"/>
<line x1="570.1" y1="536" x2="574.9" y2="536" stroke="#231f20" stroke-width="1.15"/>
<line x1="409.5" y1="536" x2="409.5" y2="534" stroke="#231f20" stroke-width="1.15"/>
<line x1="407.1" y1="534" x2="411.9" y2="534" stroke="#231f20" stroke-width="1.15"/>
<line x1="436.5" y1="547" x2="436.5" y2="545" stroke="#231f20" stroke-width="1.15"/>
<line x1="434.1" y1="545" x2="438.9" y2="545" stroke="#231f20" stroke-width="1.15"/>
<line x1="463.5" y1="546.5" x2="463.5" y2="544.5" stroke="#231f20" stroke-width="1.15"/>
<line x1="461.1" y1="544.5" x2="465.9" y2="544.5" stroke="#231f20" stroke-width="1.15"/>
<line x1="491" y1="548" x2="491" y2="546" stroke="#231f20" stroke-width="1.15"/>
<line x1="488.6" y1="546" x2="493.4" y2="546" stroke="#231f20" stroke-width="1.15"/>
<line x1="518" y1="547" x2="518" y2="545" stroke="#231f20" stroke-width="1.15"/>
<line x1="515.6" y1="545" x2="520.4" y2="545" stroke="#231f20" stroke-width="1.15"/>
<line x1="545.5" y1="547.5" x2="545.5" y2="545.5" stroke="#231f20" stroke-width="1.15"/>
<line x1="543.1" y1="545.5" x2="547.9" y2="545.5" stroke="#231f20" stroke-width="1.15"/>
<line x1="572.5" y1="545.5" x2="572.5" y2="543.5" stroke="#231f20" stroke-width="1.15"/>
<line x1="570.1" y1="543.5" x2="574.9" y2="543.5" stroke="#231f20" stroke-width="1.15"/>
<line x1="409.5" y1="522.5" x2="409.5" y2="519.5" stroke="#231f20" stroke-width="1.15"/>
<line x1="407.1" y1="519.5" x2="411.9" y2="519.5" stroke="#231f20" stroke-width="1.15"/>
<line x1="436.5" y1="539" x2="436.5" y2="536" stroke="#231f20" stroke-width="1.15"/>
<line x1="434.1" y1="536" x2="438.9" y2="536" stroke="#231f20" stroke-width="1.15"/>
<line x1="463.5" y1="524" x2="463.5" y2="521" stroke="#231f20" stroke-width="1.15"/>
<line x1="461.1" y1="521" x2="465.9" y2="521" stroke="#231f20" stroke-width="1.15"/>
<line x1="491" y1="498.3" x2="491" y2="491.3" stroke="#231f20" stroke-width="1.15"/>
<line x1="488.6" y1="491.3" x2="493.4" y2="491.3" stroke="#231f20" stroke-width="1.15"/>
<line x1="518" y1="488.5" x2="518" y2="483.5" stroke="#231f20" stroke-width="1.15"/>
<line x1="515.6" y1="483.5" x2="520.4" y2="483.5" stroke="#231f20" stroke-width="1.15"/>
<line x1="545.5" y1="500" x2="545.5" y2="496" stroke="#231f20" stroke-width="1.15"/>
<line x1="543.1" y1="496" x2="547.9" y2="496" stroke="#231f20" stroke-width="1.15"/>
<line x1="572.5" y1="521.4" x2="572.5" y2="518.4" stroke="#231f20" stroke-width="1.15"/>
<line x1="570.1" y1="518.4" x2="574.9" y2="518.4" stroke="#231f20" stroke-width="1.15"/>
<line x1="409.5" y1="535" x2="409.5" y2="532" stroke="#231f20" stroke-width="1.15"/>
<line x1="407.1" y1="532" x2="411.9" y2="532" stroke="#231f20" stroke-width="1.15"/>
<line x1="436.5" y1="546.5" x2="436.5" y2="543.5" stroke="#231f20" stroke-width="1.15"/>
<line x1="434.1" y1="543.5" x2="438.9" y2="543.5" stroke="#231f20" stroke-width="1.15"/>
<line x1="463.5" y1="541" x2="463.5" y2="538" stroke="#231f20" stroke-width="1.15"/>
<line x1="461.1" y1="538" x2="465.9" y2="538" stroke="#231f20" stroke-width="1.15"/>
<line x1="491" y1="524.2" x2="491" y2="519.2" stroke="#231f20" stroke-width="1.15"/>
<line x1="488.6" y1="519.2" x2="493.4" y2="519.2" stroke="#231f20" stroke-width="1.15"/>
<line x1="518" y1="515.7" x2="518" y2="509.70000000000005" stroke="#231f20" stroke-width="1.15"/>
<line x1="515.6" y1="509.70000000000005" x2="520.4" y2="509.70000000000005" stroke="#231f20" stroke-width="1.15"/>
<line x1="545.5" y1="522.3" x2="545.5" y2="518.3" stroke="#231f20" stroke-width="1.15"/>
<line x1="543.1" y1="518.3" x2="547.9" y2="518.3" stroke="#231f20" stroke-width="1.15"/>
<line x1="572.5" y1="537" x2="572.5" y2="535" stroke="#231f20" stroke-width="1.15"/>
<line x1="570.1" y1="535" x2="574.9" y2="535" stroke="#231f20" stroke-width="1.15"/>
<polygon points="409.5,517.6999999999999 413.3,526.0999999999999 405.7,526.0999999999999" fill="#fff" stroke="#231f20" stroke-width="1.1"/>
<polygon points="436.5,535.4 440.3,543.8 432.7,543.8" fill="#fff" stroke="#231f20" stroke-width="1.1"/>
<polygon points="463.5,539.4 467.3,547.8 459.7,547.8" fill="#fff" stroke="#231f20" stroke-width="1.1"/>
<polygon points="491,538.4 494.8,546.8 487.2,546.8" fill="#fff" stroke="#231f20" stroke-width="1.1"/>
<polygon points="518,534.4 521.8,542.8 514.2,542.8" fill="#fff" stroke="#231f20" stroke-width="1.1"/>
<polygon points="545.5,533.4 549.3,541.8 541.7,541.8" fill="#fff" stroke="#231f20" stroke-width="1.1"/>
<polygon points="572.5,533.4 576.3,541.8 568.7,541.8" fill="#fff" stroke="#231f20" stroke-width="1.1"/>
<polygon points="409.5,531.8 413.6,539.4 405.4,539.4" fill="#231f20" stroke="#231f20" stroke-width="1.1"/>
<polygon points="436.5,542.8 440.6,550.4 432.4,550.4" fill="#231f20" stroke="#231f20" stroke-width="1.1"/>
<polygon points="463.5,542.3 467.6,549.9 459.4,549.9" fill="#231f20" stroke="#231f20" stroke-width="1.1"/>
<polygon points="491,543.8 495.1,551.4 486.9,551.4" fill="#231f20" stroke="#231f20" stroke-width="1.1"/>
<polygon points="518,542.8 522.1,550.4 513.9,550.4" fill="#231f20" stroke="#231f20" stroke-width="1.1"/>
<polygon points="545.5,543.3 549.6,550.9 541.4,550.9" fill="#231f20" stroke="#231f20" stroke-width="1.1"/>
<polygon points="572.5,541.3 576.6,548.9 568.4,548.9" fill="#231f20" stroke="#231f20" stroke-width="1.1"/>
<rect x="406.5" y="519.5" width="6" height="6" fill="#fff" stroke="#231f20" stroke-width="1.2"/>
<rect x="433.5" y="536.0" width="6" height="6" fill="#fff" stroke="#231f20" stroke-width="1.2"/>
<rect x="460.5" y="521.0" width="6" height="6" fill="#fff" stroke="#231f20" stroke-width="1.2"/>
<rect x="488.0" y="495.3" width="6" height="6" fill="#fff" stroke="#231f20" stroke-width="1.2"/>
<rect x="515.0" y="485.5" width="6" height="6" fill="#fff" stroke="#231f20" stroke-width="1.2"/>
<rect x="542.5" y="497.0" width="6" height="6" fill="#fff" stroke="#231f20" stroke-width="1.2"/>
<rect x="569.5" y="518.4" width="6" height="6" fill="#fff" stroke="#231f20" stroke-width="1.2"/>
<rect x="406.1" y="531.6" width="6.8" height="6.8" fill="#231f20" stroke="none" stroke-width="1"/>
<rect x="433.1" y="543.1" width="6.8" height="6.8" fill="#231f20" stroke="none" stroke-width="1"/>
<rect x="460.1" y="537.6" width="6.8" height="6.8" fill="#231f20" stroke="none" stroke-width="1"/>
<rect x="487.6" y="520.8000000000001" width="6.8" height="6.8" fill="#231f20" stroke="none" stroke-width="1"/>
<rect x="514.6" y="512.3000000000001" width="6.8" height="6.8" fill="#231f20" stroke="none" stroke-width="1"/>
<rect x="542.1" y="518.9" width="6.8" height="6.8" fill="#231f20" stroke="none" stroke-width="1"/>
<rect x="569.1" y="533.6" width="6.8" height="6.8" fill="#231f20" stroke="none" stroke-width="1"/>
<text x="642" y="497.5" font-size="11.6" text-anchor="middle">AUC (s.min)</text>
<line x1="653" y1="512.1" x2="653" y2="604.5" stroke="#231f20" stroke-width="1.15"/>
<line x1="653" y1="512.6" x2="655.9" y2="512.6" stroke="#231f20" stroke-width="1.15"/>
<text x="659.3" y="516.2" font-size="11.6" text-anchor="start">300</text>
<line x1="653" y1="535.4" x2="655.9" y2="535.4" stroke="#231f20" stroke-width="1.15"/>
<text x="659.3" y="539.0" font-size="11.6" text-anchor="start">200</text>
<line x1="653" y1="558.3" x2="655.9" y2="558.3" stroke="#231f20" stroke-width="1.15"/>
<text x="659.3" y="561.9" font-size="11.6" text-anchor="start">100</text>
<line x1="653" y1="581" x2="655.9" y2="581" stroke="#231f20" stroke-width="1.15"/>
<text x="659.3" y="584.6" font-size="11.6" text-anchor="start">0</text>
<line x1="653" y1="604" x2="655.9" y2="604" stroke="#231f20" stroke-width="1.15"/>
<text x="659.3" y="607.6" font-size="11.6" text-anchor="start">–100</text>
<line x1="582.7" y1="580.8" x2="645.2" y2="580.8" stroke="#231f20" stroke-width="1.15"/>
<rect x="583.2" y="580.8" width="13.299999999999955" height="10.400000000000091" fill="#fff" stroke="#231f20" stroke-width="1.1"/>
<line x1="589.5" y1="591.2" x2="589.5" y2="593.5" stroke="#231f20" stroke-width="1.15"/>
<line x1="586.0" y1="593.5" x2="593.0" y2="593.5" stroke="#231f20" stroke-width="1.15"/>
<rect x="597" y="580.8" width="14.899999999999977" height="1.6000000000000227" fill="#231f20" stroke="none" stroke-width="0"/>
<line x1="604.5" y1="582.4" x2="604.5" y2="585.5" stroke="#231f20" stroke-width="1.15"/>
<line x1="601.0" y1="585.5" x2="608.0" y2="585.5" stroke="#231f20" stroke-width="1.15"/>
<rect x="616.8" y="525.3" width="13.300000000000068" height="55.5" fill="#fff" stroke="#231f20" stroke-width="1.1"/>
<line x1="623.5" y1="525.3" x2="623.5" y2="520.5" stroke="#231f20" stroke-width="1.15"/>
<line x1="620.0" y1="520.5" x2="627.0" y2="520.5" stroke="#231f20" stroke-width="1.15"/>
<rect x="630.6" y="544.9" width="14.600000000000023" height="35.89999999999998" fill="#231f20" stroke="none" stroke-width="0"/>
<line x1="637.5" y1="544.9" x2="637.5" y2="541.5" stroke="#231f20" stroke-width="1.15"/>
<line x1="634.0" y1="541.5" x2="641.0" y2="541.5" stroke="#231f20" stroke-width="1.15"/>
<text x="638" y="542.0" font-size="11" text-anchor="middle">**</text>
<text x="413" y="594.7" font-size="11.95" text-anchor="end" transform="rotate(-45 413 594.7)">Pre surgery</text>
<text x="441" y="594.7" font-size="11.95" text-anchor="end" transform="rotate(-45 441 594.7)">14 days post surgery</text>
<text x="466.4" y="596.8" font-size="11" text-anchor="middle" transform="rotate(-52 466.4 596.8)">15</text>
<text x="493.9" y="596.8" font-size="11" text-anchor="middle" transform="rotate(-52 493.9 596.8)">30</text>
<text x="520.9" y="596.8" font-size="11" text-anchor="middle" transform="rotate(-52 520.9 596.8)">45</text>
<text x="548.4" y="596.8" font-size="11" text-anchor="middle" transform="rotate(-52 548.4 596.8)">60</text>
<text x="575.4" y="596.8" font-size="11" text-anchor="middle" transform="rotate(-52 575.4 596.8)">90</text>
<line x1="449.8" y1="607.4" x2="575.5" y2="607.4" stroke="#231f20" stroke-width="1.15"/>
<text x="513" y="620" font-size="11.6" text-anchor="middle">Post-injection time (min)</text>
<text x="444.5" y="638.3" font-size="11.6" text-anchor="middle">Morphine</text>
<text x="444.5" y="652.5" font-size="11.6" text-anchor="middle">3 mg kg<tspan dy="-4.5" font-size="8">−1</tspan></text>
<text x="604.2" y="603.2" font-size="11.6" text-anchor="end" transform="rotate(-58.5 604.2 603.2)">Vehicle</text>
<text x="637" y="602" font-size="11.6" text-anchor="end" transform="rotate(-58.5 637 602)">Morphine</text>
<text x="377.3" y="519.2" font-size="11.6" text-anchor="middle" transform="rotate(-90 377.3 519.2)">Withdrawal latency (s)</text>
</g>
</svg>
</body></html>
